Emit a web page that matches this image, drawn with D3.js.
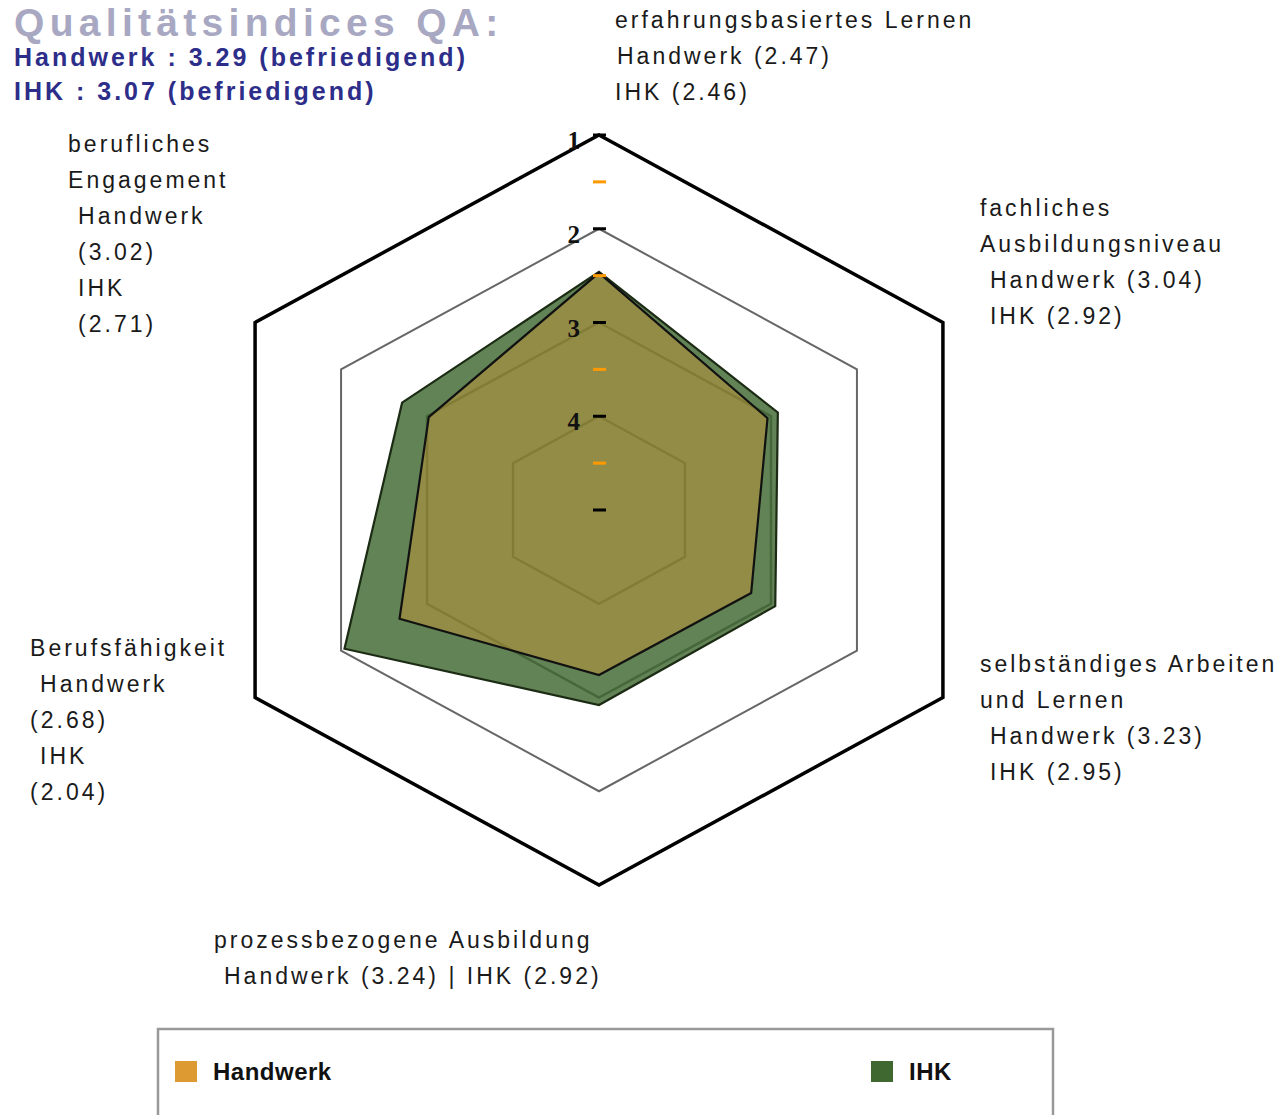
<!DOCTYPE html>
<html><head><meta charset="utf-8">
<script src="https://cdn.jsdelivr.net/npm/d3@7/dist/d3.min.js"></script>
<style>html,body{margin:0;padding:0;background:#fff;overflow:hidden}</style>
</head><body>
<svg id="chart" width="1284" height="1115"></svg>
<script>
// ---- data ----
const categories = [
  ["erfahrungsbasiertes Lernen"],
  ["fachliches", "Ausbildungsniveau"],
  ["selbständiges Arbeiten", "und Lernen"],
  ["prozessbezogene Ausbildung"],
  ["Berufsfähigkeit"],
  ["berufliches", "Engagement"]
];
const seriesNames = ["Handwerk", "IHK"];
const handwerk = [2.47, 3.04, 3.23, 3.24, 2.68, 3.02];
const ihk      = [2.46, 2.92, 2.95, 2.92, 2.04, 2.71];
const summaryValues = [3.29, 3.07];
const summaryRatings = ["befriedigend", "befriedigend"];
const titleText = "Qualitätsindices QA:";
const majorTicks = [1, 2, 3, 4, 5];
const majorTickLabels = ["1", "2", "3", "4", ""];
const minorTicks = [1.5, 2.5, 3.5, 4.5];
const gridLevels = [4, 3, 2, 1];

// ---- layout ----
const svg = d3.select("#chart");
const cx = 599, cy = 510, R = 375, sx = 1.059;
const r = d3.scaleLinear().domain([5, 1]).range([0, R]);
const angle = d3.scaleLinear().domain([0, categories.length]).range([0, 2 * Math.PI]);
const pt = (i, v) => {
  const a = angle(i), rr = r(v);
  return [cx + rr * Math.sin(a) * sx, cy - rr * Math.cos(a)];
};
const line = d3.line().curve(d3.curveLinearClosed);
const colors = {Handwerk: "#dd9a33", IHK: "#3f6830"};

// grid
gridLevels.forEach(lv => {
  svg.append("path")
    .attr("d", line(categories.map((c, i) => pt(i, lv))))
    .attr("fill", "none")
    .attr("stroke", lv === 1 ? "#000" : "#666")
    .attr("stroke-width", lv === 1 ? 3.5 : (lv === 2 ? 2 : 2.5))
    .attr("stroke-linejoin", "miter");
});

// series polygons
const series = [
  {name: "IHK", values: ihk, fill: colors.IHK, op: 0.82, stroke: "#1c2b14"},
  {name: "Handwerk", values: handwerk, fill: colors.Handwerk, op: 0.4, stroke: "#111"}
];
series.forEach(s => {
  svg.append("path")
    .attr("d", line(s.values.map((v, i) => pt(i, v))))
    .attr("fill", s.fill).attr("fill-opacity", s.op)
    .attr("stroke", s.stroke).attr("stroke-width", 2.2)
    .attr("stroke-linejoin", "miter");
});

// ticks on the top axis
majorTicks.forEach((t, k) => {
  const [x, y] = pt(0, t);
  svg.append("line").attr("x1", x - 6).attr("x2", x + 7).attr("y1", y).attr("y2", y)
    .attr("stroke", "#000").attr("stroke-width", 3);
  svg.append("text").attr("x", x - 19).attr("y", y + 14)
    .attr("text-anchor", "end")
    .attr("font-family", "Liberation Serif").attr("font-weight", "bold")
    .attr("font-size", 25).attr("fill", "#111").text(majorTickLabels[k]);
});
minorTicks.forEach(t => {
  const [x, y] = pt(0, t);
  svg.append("line").attr("x1", x - 6).attr("x2", x + 7).attr("y1", y).attr("y2", y)
    .attr("stroke", "#ff9900").attr("stroke-width", 3);
});

// axis labels
const fmt = d3.format(".2f");
const labelLayout = [
  {dx: 16, dy: -107, lines: i => [[categories[i][0], 0], [`Handwerk (${fmt(handwerk[i])})`, 2], [`IHK (${fmt(ihk[i])})`, 0]]},
  {dx: 37, dy: -107, lines: i => [[categories[i][0], 0], [categories[i][1], 0], [`Handwerk (${fmt(handwerk[i])})`, 10], [`IHK (${fmt(ihk[i])})`, 10]]},
  {dx: 37, dy: -26, lines: i => [[categories[i][0], 0], [categories[i][1], 0], [`Handwerk (${fmt(handwerk[i])})`, 10], [`IHK (${fmt(ihk[i])})`, 10]]},
  {dx: -385, dy: 63, lines: i => [[categories[i][0], 0], [`Handwerk (${fmt(handwerk[i])}) | IHK (${fmt(ihk[i])})`, 10]]},
  {dx: -225, dy: -42, lines: i => [[categories[i][0], 0], ["Handwerk", 10], [`(${fmt(handwerk[i])})`, 0], ["IHK", 10], [`(${fmt(ihk[i])})`, 0]]},
  {dx: -187, dy: -171, lines: i => [[categories[i][0], 0], [categories[i][1], 0], ["Handwerk", 10], [`(${fmt(handwerk[i])})`, 10], ["IHK", 10], [`(${fmt(ihk[i])})`, 10]]}
];
categories.forEach((c, i) => {
  const [vx, vy] = pt(i, 1);
  const L = labelLayout[i];
  const g = svg.append("text")
    .attr("font-family", "Liberation Sans").attr("font-size", 23)
    .attr("letter-spacing", 3).attr("fill", "#1a1a1a");
  L.lines(i).forEach(([txt, ind], k) => {
    g.append("tspan").attr("x", vx + L.dx + ind).attr("y", vy + L.dy + k * 36).text(txt);
  });
});

// title & summary
svg.append("text").attr("x", 14).attr("y", 36)
  .attr("font-family", "Liberation Sans").attr("font-weight", "bold").attr("font-size", 39)
  .attr("letter-spacing", 5.3).attr("fill", "#a8a8c2").text(titleText);
seriesNames.forEach((n, k) => {
  svg.append("text").attr("x", 14).attr("y", 66 + k * 34)
    .attr("font-family", "Liberation Sans").attr("font-weight", "bold").attr("font-size", 25)
    .attr("letter-spacing", 3).attr("fill", "#2d2d8a")
    .text(`${n} : ${fmt(summaryValues[k])} (${summaryRatings[k]})`);
});

// legend
svg.append("rect").attr("x", 158).attr("y", 1029).attr("width", 895).attr("height", 120)
  .attr("fill", "#fff").attr("stroke", "#999").attr("stroke-width", 2.5);
const legendX = d3.scalePoint().domain(seriesNames).range([175, 871]);
seriesNames.forEach(n => {
  svg.append("rect").attr("x", legendX(n)).attr("y", 1061).attr("width", 22).attr("height", 21)
    .attr("fill", colors[n]);
  svg.append("text").attr("x", legendX(n) + 38).attr("y", 1080)
    .attr("font-family", "Liberation Sans").attr("font-weight", "bold").attr("font-size", 24)
    .attr("letter-spacing", 0.5).attr("fill", "#111").text(n);
});
</script>
</body></html>
